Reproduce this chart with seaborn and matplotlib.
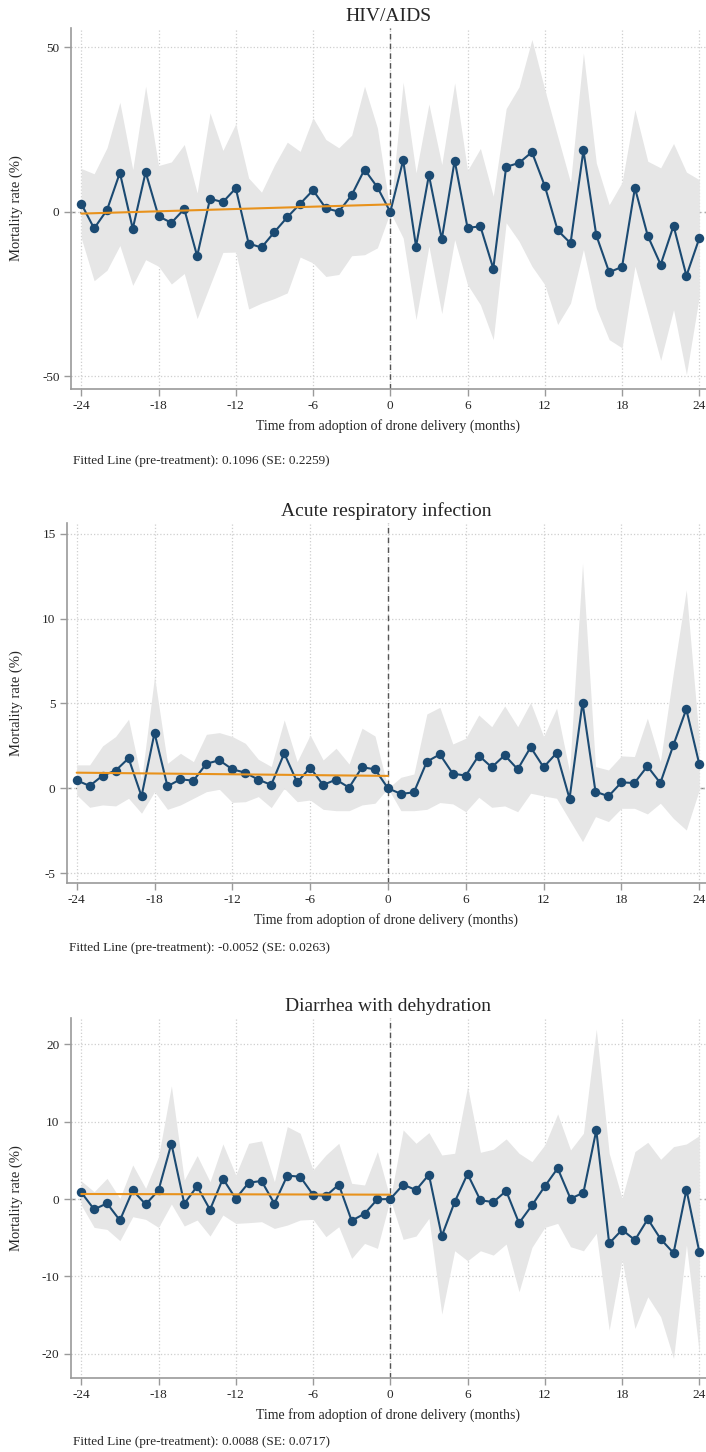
import numpy as np
import pandas as pd
import matplotlib
matplotlib.use("Agg")
import matplotlib.pyplot as plt
import seaborn as sns

# event time in months relative to drone adoption
months = list(range(-24, 25))
fit_months = [-24, 0]

# HIV/AIDS
hiv_est = [2.5, -5.0, 0.6, 11.9, -5.1, 12.1, -1.3, -3.3, 0.9, -13.4,
           4.0, 3.0, 7.2, -9.6, -10.8, -6.1, -1.6, 2.5, 6.6, 1.1,
           0.1, 5.1, 12.9, 7.5, 0.0,
           15.7, -10.5, 11.2, -8.3, 15.6, -4.8, -4.4, -17.2, 13.7, 14.9,
           18.2, 7.9, -5.6, -9.5, 18.7, -7.1, -18.3, -16.7, 7.3, -7.3,
           -16.0, -4.2, -19.4, -8.0]
hiv_hi = [13.2, 11.6, 19.5, 33.3, 12.9, 38.2, 14.1, 15.2, 20.5, 5.8,
          30.1, 18.7, 26.8, 10.3, 6.0, 14.2, 21.2, 18.4, 28.6, 22.0,
          19.5, 23.3, 38.2, 25.5, 0.0,
          39.4, 11.9, 32.8, 14.4, 39.2, 12.6, 19.3, 4.8, 31.4, 38.0,
          52.4, 37.2, 23.0, 9.0, 48.3, 14.9, 2.2, 9.0, 31.1, 15.4,
          13.4, 20.8, 12.1, 9.8]
hiv_lo = [-7.9, -20.9, -17.7, -10.2, -22.3, -14.5, -16.5, -21.9, -18.7, -32.4,
          -22.3, -12.3, -12.2, -29.5, -27.7, -26.3, -24.6, -13.7, -15.5, -19.6,
          -19.0, -13.3, -13.0, -10.9, 0.0,
          -7.9, -32.7, -10.4, -30.9, -8.4, -22.1, -28.2, -38.8, -3.3, -8.9,
          -16.5, -22.1, -34.2, -27.7, -11.4, -29.2, -38.8, -41.3, -16.5, -30.7,
          -45.1, -29.7, -49.4, -25.6]
hiv_fit = [-0.5, 2.3]

# Acute respiratory infection
ari_est = [0.47, 0.14, 0.75, 1.04, 1.77, -0.47, 3.26, 0.12, 0.53, 0.45,
           1.45, 1.65, 1.12, 0.92, 0.51, 0.20, 2.06, 0.35, 1.22, 0.20,
           0.51, 0.04, 1.24, 1.12, 0.0,
           -0.33, -0.24, 1.57, 2.00, 0.86, 0.75, 1.93, 1.24, 1.95, 1.12,
           2.42, 1.24, 2.08, -0.61, 5.05, -0.20, -0.47, 0.35, 0.31, 1.30,
           0.31, 2.53, 4.66, 1.43]
ari_hi = [1.38, 1.38, 2.50, 3.05, 4.07, 0.49, 6.58, 1.47, 2.06, 1.57,
          3.18, 3.28, 3.05, 2.65, 1.71, 1.28, 4.03, 1.57, 3.14, 1.67,
          2.36, 1.43, 3.54, 3.08, 0.0,
          0.65, 0.84, 4.38, 4.77, 2.61, 2.95, 4.32, 3.63, 4.85, 3.63,
          5.05, 3.05, 4.72, 0.98, 13.26, 1.28, 1.08, 1.91, 1.87, 4.13,
          1.57, 6.78, 11.69, 2.85]
ari_lo = [-0.39, -1.12, -0.98, -1.04, -0.59, -1.47, -0.20, -1.24, -0.98, -0.59,
          -0.20, -0.06, -0.83, -0.79, -0.49, -1.14, 0.0, -0.79, -0.69, -1.24,
          -1.32, -1.32, -0.98, -0.88, 0.0,
          -1.32, -1.32, -1.24, -0.84, -0.92, -1.38, -0.53, -1.12, -1.04, -1.38,
          -0.29, -0.45, -0.59, -1.87, -3.14, -1.67, -1.96, -1.18, -1.18, -1.51,
          -0.88, -1.77, -2.46, -0.10]
ari_fit = [0.92, 0.73]

# Diarrhea with dehydration
diar_est = [0.86, -1.34, -0.56, -2.76, 1.12, -0.69, 1.12, 7.16, -0.60, 1.64,
            -1.38, 2.63, 0.04, 2.11, 2.33, -0.60, 3.02, 2.89, 0.56, 0.39,
            1.86, -2.80, -1.90, -0.04, 0.0,
            1.86, 1.16, 3.15, -4.79, -0.39, 3.24, -0.17, -0.39, 1.04, -3.11,
            -0.82, 1.64, 3.97, 0.04, 0.82, 8.89, -5.74, -3.97, -5.31, -2.59,
            -5.18, -6.99, 1.21, -6.82]
diar_hi = [2.33, 0.95, 2.67, 0.09, 4.40, 1.38, 5.48, 14.63, 2.46, 5.61,
           2.24, 7.12, 3.11, 7.20, 7.51, 2.24, 9.36, 8.50, 3.75, 5.69,
           7.20, 2.03, 1.81, 6.13, 0.0,
           8.93, 7.20, 8.58, 5.69, 5.91, 14.54, 6.04, 6.43, 7.77, 5.91,
           4.83, 6.99, 11.00, 6.34, 8.50, 21.96, 5.91, 0.09, 6.13, 7.33,
           5.13, 6.77, 7.12, 8.20]
diar_lo = [-0.78, -3.67, -3.93, -5.39, -2.29, -2.63, -3.67, -0.65, -3.49, -2.72,
           -4.79, -2.07, -3.15, -3.06, -2.93, -3.80, -3.37, -2.72, -2.63, -4.87,
           -3.58, -7.68, -5.74, -6.38, 0.0,
           -5.22, -4.79, -2.50, -14.88, -6.69, -7.98, -6.69, -7.25, -5.82, -11.99,
           -6.26, -3.67, -3.15, -6.17, -6.69, -4.44, -16.95, -7.81, -16.74, -12.64,
           -15.23, -20.62, -5.95, -19.89]
diar_fit = [0.65, 0.56]

titles = ["HIV/AIDS", "Acute respiratory infection", "Diarrhea with dehydration"]
notes = ["Fitted Line (pre-treatment): 0.1096 (SE: 0.2259)",
         "Fitted Line (pre-treatment): -0.0052 (SE: 0.0263)",
         "Fitted Line (pre-treatment): 0.0088 (SE: 0.0717)"]
yticks = [[-50, 0, 50], [-5, 0, 5, 10, 15], [-20, -10, 0, 10, 20]]

sns.set_style("white")
plt.rcParams['font.family'] = ['Liberation Serif', 'DejaVu Serif']
plt.rcParams['axes.unicode_minus'] = False

NAVY = "#1b4a72"
ORANGE = "#e8921c"
BAND = "#e6e6e6"
W, H = 706, 1452

fig = plt.figure(figsize=(W / 100, H / 100), dpi=100)

# pixel boxes: left, top, bottom ; ylim ; note position
boxes = [(70.7, 28, 389, (-53.8, 55.9), (73, 461)),
         (66.7, 523, 883, (-5.58, 15.63), (69, 948)),
         (70.7, 1018, 1377.7, (-23.1, 23.4), (73, 1442))]
xlims = [(-24.82, 24.52), (-24.77, 24.52), (-24.82, 24.52)]

series = [(hiv_est, hiv_lo, hiv_hi, hiv_fit),
          (ari_est, ari_lo, ari_hi, ari_fit),
          (diar_est, diar_lo, diar_hi, diar_fit)]

for i, (est, lo, hi, fit) in enumerate(series):
    left, top, bottom, ylim, note_xy = boxes[i]
    ax = fig.add_axes([left / W, 1 - bottom / H, (W - left) / W, (bottom - top) / H])
    df = pd.DataFrame({"month": months, "est": est, "lo": lo, "hi": hi})

    ax.grid(True, ls=":", color="#cfcfcf", lw=0.9, zorder=0)
    ax.set_axisbelow(True)
    ax.axhline(0, color="#8a8a8a", lw=1, ls=(0, (3, 3)), zorder=0.5)
    ax.fill_between(df["month"], df["lo"], df["hi"], color=BAND, lw=0, zorder=1)
    ax.axvline(0, color="#555555", lw=1, ls=(0, (4, 3)), zorder=2)
    sns.lineplot(data=df, x="month", y="est", ax=ax, color=NAVY, lw=1.5,
                 marker="o", markersize=6.8, markeredgewidth=0, zorder=4)
    sns.lineplot(x=fit_months, y=fit, ax=ax, color=ORANGE, lw=1.5, zorder=5)

    ax.set_xlim(*xlims[i])
    ax.set_ylim(*ylim)
    ax.set_xticks(range(-24, 25, 6))
    ax.set_yticks(yticks[i])
    for s in ["top", "right"]:
        ax.spines[s].set_visible(False)
    for s in ["left", "bottom"]:
        ax.spines[s].set_color("#9a9a9a")
        ax.spines[s].set_linewidth(1.2)
    ax.tick_params(bottom=True, left=True, direction="out", length=5,
                   width=1, color="#9a9a9a", labelsize=9.5, pad=3)

    ax.set_title(titles[i], fontsize=14, pad=5)
    ax.set_xlabel("Time from adoption of drone delivery (months)", fontsize=10, labelpad=5)
    ax.set_ylabel("Mortality rate (%)", fontsize=10.5)
    ax_w = W - left
    ax.yaxis.set_label_coords((23 - left) / ax_w, 0.5)

    fig.text(note_xy[0] / W, 1 - note_xy[1] / H, notes[i], fontsize=9.5,
             ha="left", va="center")

fig.savefig("out.png", dpi=100)
